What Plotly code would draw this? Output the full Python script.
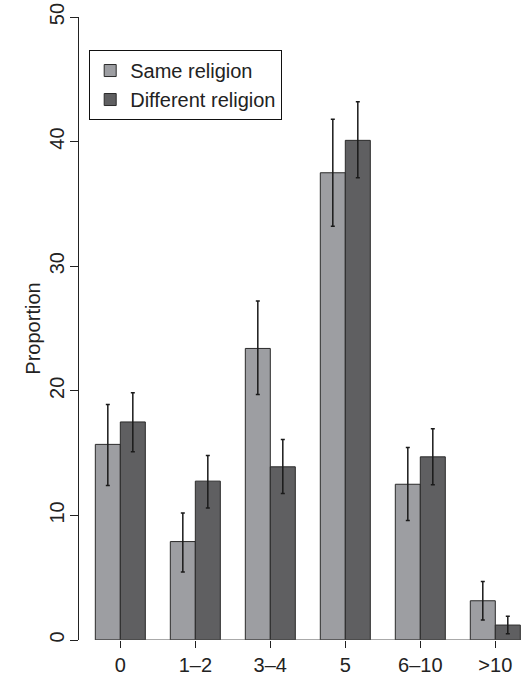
import plotly.graph_objects as go

categories = ["0", "1\u20132", "3\u20134", "5", "6\u201310", ">10"]

same_values = [15.7, 7.9, 23.4, 37.5, 12.5, 3.15]
same_upper = [18.9, 10.2, 27.2, 41.8, 15.45, 4.7]
same_lower = [12.4, 5.45, 19.7, 33.2, 9.6, 1.6]

diff_values = [17.5, 12.75, 13.9, 40.1, 14.7, 1.2]
diff_upper = [19.85, 14.8, 16.1, 43.2, 16.95, 1.9]
diff_lower = [15.1, 10.6, 11.75, 37.1, 12.45, 0.5]

series_names = ["Same religion", "Different religion"]
y_ticks = [0, 10, 20, 30, 40, 50]

LIGHT = "#9d9ea2"
DARK = "#5f5f61"
OUTLINE = "#2a2a2a"
FONT = "Liberation Sans, Arial, sans-serif"
FS = 20


def err(vals, up, lo):
    return dict(
        type="data",
        symmetric=False,
        array=[u - v for u, v in zip(up, vals)],
        arrayminus=[v - l for v, l in zip(vals, lo)],
        color="#1a1a1a",
        thickness=1.5,
        width=2,
    )


fig = go.Figure()
fig.add_trace(go.Bar(
    x=categories, y=same_values, name=series_names[0],
    marker=dict(color=LIGHT, line=dict(color=OUTLINE, width=1)),
    error_y=err(same_values, same_upper, same_lower),
))
fig.add_trace(go.Bar(
    x=categories, y=diff_values, name=series_names[1],
    marker=dict(color=DARK, line=dict(color=OUTLINE, width=1)),
    error_y=err(diff_values, diff_upper, diff_lower),
))

bargap = 1 / 3
half = (1 - bargap) / 2
fig.add_shape(type="line", xref="x", yref="y",
              x0=-half, x1=len(categories) - 1 + half, y0=0, y1=0,
              line=dict(color="#555555", width=1))

fig.update_layout(
    width=523, height=675,
    margin=dict(l=79, r=1, t=17, b=35, autoexpand=False),
    paper_bgcolor="white", plot_bgcolor="white",
    barmode="group", bargap=bargap, bargroupgap=0,
    font=dict(family=FONT, size=FS, color="#222222"),
    showlegend=True,
    legend=dict(
        x=0.023, y=0.947, xanchor="left", yanchor="top",
        bordercolor="#111111", borderwidth=1, bgcolor="white",
        font=dict(size=FS, color="#222222"),
        traceorder="normal",
        tracegroupgap=0, itemwidth=30,
    ),
    xaxis=dict(
        type="category", range=[-0.551, 5.356], automargin=False,
        showline=False, showgrid=False, zeroline=False,
        ticks="outside", ticklen=7, tickwidth=1, tickcolor="#222222",
        tickfont=dict(size=FS),
        ticklabelstandoff=0,
    ),
    yaxis=dict(
        range=[0, 50], tickvals=y_ticks, automargin=False,
        showline=True, linecolor="#222222", linewidth=1,
        showgrid=False, zeroline=False,
        ticks="outside", ticklen=8, tickwidth=1, tickcolor="#222222",
        tickangle=-90, tickfont=dict(size=FS),
        ticklabelstandoff=-2,
        title=dict(text="Proportion", font=dict(size=FS), standoff=0),
    ),
)

fig.write_html(
    "out.html",
    config={"displayModeBar": False},
    post_script="document.body.style.margin='0px';document.body.style.padding='0px';",
)
